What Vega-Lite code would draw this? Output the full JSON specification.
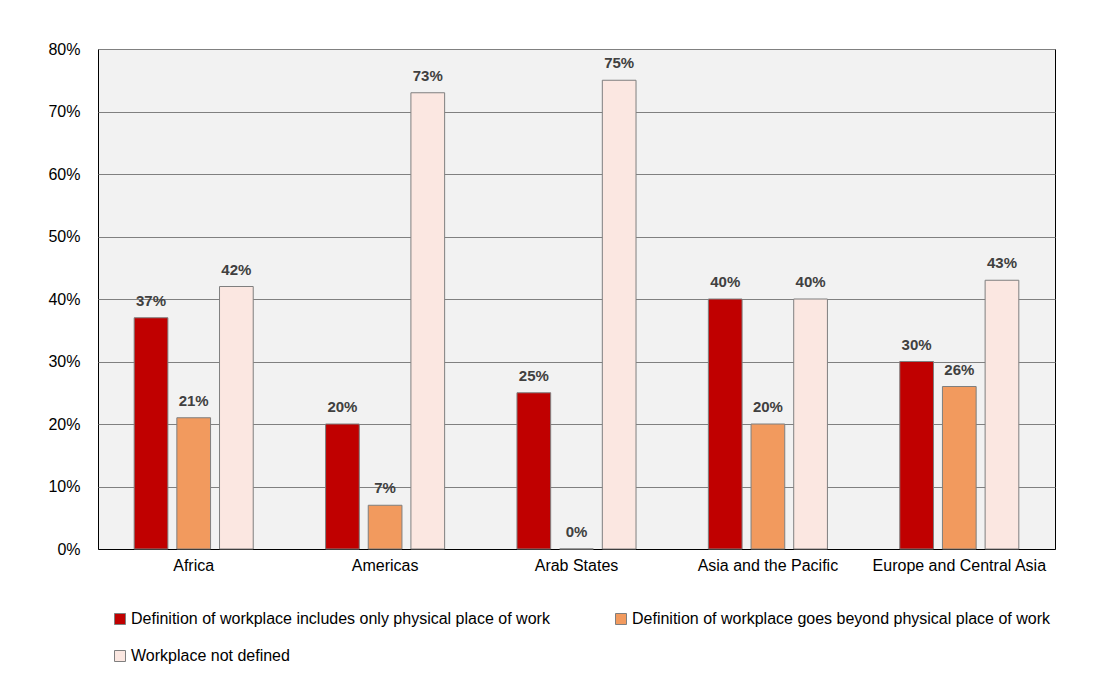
{
  "$schema": "https://vega.github.io/schema/vega-lite/v6.json",
  "autosize": "none",
  "width": 957,
  "height": 500,
  "padding": {"left": 98, "top": 49, "right": 45, "bottom": 132},
  "background": "white",
  "config": {
    "font": "Liberation Sans",
    "view": {"fill": "#f2f2f2", "stroke": "black", "strokeWidth": 1}
  },
  "data": {
    "values": [
      {"region": "Africa", "series": "Definition of workplace includes only physical place of work", "value": 0.37},
      {"region": "Africa", "series": "Definition of workplace goes beyond physical place of work", "value": 0.21},
      {"region": "Africa", "series": "Workplace not defined", "value": 0.42},
      {"region": "Americas", "series": "Definition of workplace includes only physical place of work", "value": 0.20},
      {"region": "Americas", "series": "Definition of workplace goes beyond physical place of work", "value": 0.07},
      {"region": "Americas", "series": "Workplace not defined", "value": 0.73},
      {"region": "Arab States", "series": "Definition of workplace includes only physical place of work", "value": 0.25},
      {"region": "Arab States", "series": "Definition of workplace goes beyond physical place of work", "value": 0.0},
      {"region": "Arab States", "series": "Workplace not defined", "value": 0.75},
      {"region": "Asia and the Pacific", "series": "Definition of workplace includes only physical place of work", "value": 0.40},
      {"region": "Asia and the Pacific", "series": "Definition of workplace goes beyond physical place of work", "value": 0.20},
      {"region": "Asia and the Pacific", "series": "Workplace not defined", "value": 0.40},
      {"region": "Europe and Central Asia", "series": "Definition of workplace includes only physical place of work", "value": 0.30},
      {"region": "Europe and Central Asia", "series": "Definition of workplace goes beyond physical place of work", "value": 0.26},
      {"region": "Europe and Central Asia", "series": "Workplace not defined", "value": 0.43}
    ]
  },
  "encoding": {
    "x": {
      "field": "region", "type": "nominal", "sort": null,
      "scale": {"paddingInner": 0.378, "paddingOuter": 0.189},
      "axis": {"title": null, "labelAngle": 0, "labelFontSize": 16, "labelColor": "black", "ticks": false, "labelPadding": 8, "domainColor": "black", "domainWidth": 1, "grid": false}
    },
    "xOffset": {
      "field": "series", "type": "nominal",
      "sort": ["Definition of workplace includes only physical place of work", "Definition of workplace goes beyond physical place of work", "Workplace not defined"],
      "scale": {"paddingInner": 0.21, "paddingOuter": 0}
    },
    "y": {
      "field": "value", "type": "quantitative",
      "scale": {"domain": [0, 0.8], "nice": false},
      "axis": {"title": null, "format": ".0%", "values": [0, 0.1, 0.2, 0.3, 0.4, 0.5, 0.6, 0.7, 0.8], "labelFontSize": 16, "labelColor": "black", "ticks": false, "labelPadding": 18, "domain": false, "gridColor": "#808080", "gridWidth": 1}
    }
  },
  "layer": [
    {
      "mark": {"type": "bar", "stroke": "#7f7f7f", "strokeWidth": 1},
      "encoding": {
        "color": {
          "field": "series", "type": "nominal",
          "sort": ["Definition of workplace includes only physical place of work", "Definition of workplace goes beyond physical place of work", "Workplace not defined"],
          "scale": {"domain": ["Definition of workplace includes only physical place of work", "Definition of workplace goes beyond physical place of work", "Workplace not defined"], "range": ["#c00000", "#f29a5e", "#fbe7e1"]},
          "legend": {
            "title": null, "orient": "none", "legendX": 14, "legendY": 562,
            "direction": "horizontal", "columns": 2, "columnPadding": 63, "rowPadding": 21,
            "padding": 0, "labelFontSize": 16, "labelColor": "black", "labelLimit": 700,
            "symbolType": "square", "symbolSize": 121, "symbolStrokeColor": "#7f7f7f", "symbolStrokeWidth": 1, "labelOffset": 3
          }
        }
      }
    },
    {
      "mark": {"type": "text", "baseline": "bottom", "dy": -9, "fontWeight": "bold", "fontSize": 15, "color": "#404040"},
      "encoding": {
        "text": {"field": "value", "type": "quantitative", "format": ".0%"}
      }
    }
  ]
}
